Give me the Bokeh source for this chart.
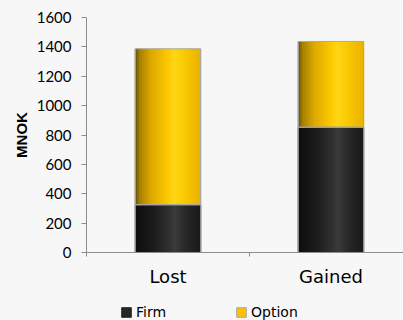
from bokeh.plotting import figure
from bokeh.models import (Range1d, FixedTicker, Legend, LegendItem)
from bokeh.layouts import column
from bokeh.embed import file_html
from bokeh.resources import INLINE

# ---- data ----
categories = ["Lost", "Gained"]
firm = [325, 853]
option = [1062, 584]
series_names = ["Firm", "Option"]
y_ticks = [0, 200, 400, 600, 800, 1000, 1200, 1400, 1600]

BG = "#f7f7f7"
AXIS = "#8c8c8c"
FIRM_C = "#262626"
OPT_C = "#ffc000"

def lerp_hex(stops, t):
    for (t0, c0), (t1, c1) in zip(stops[:-1], stops[1:]):
        if t0 <= t <= t1:
            f = (t - t0) / (t1 - t0) if t1 > t0 else 0
            a = [int(c0[i:i + 2], 16) for i in (1, 3, 5)]
            b = [int(c1[i:i + 2], 16) for i in (1, 3, 5)]
            return "#%02x%02x%02x" % tuple(round(a[k] + (b[k] - a[k]) * f) for k in range(3))
    return stops[-1][1]

yellow_stops = [(0.0, "#5e4c0c"), (0.08, "#a88200"), (0.25, "#dca800"),
                (0.5, "#fcc800"), (0.6, "#ffd615"), (0.8, "#f8c600"), (1.0, "#eab200")]
black_stops = [(0.0, "#0e0e0e"), (0.3, "#1c1c1c"), (0.62, "#3a3a3a"),
               (0.8, "#262626"), (1.0, "#1a1a1a")]

p = figure(width=403, height=290, output_backend="svg", toolbar_location=None,
           x_range=Range1d(0, 1.945), y_range=Range1d(0, 1600),
           min_border_left=86, min_border_right=0, min_border_top=17,
           min_border_bottom=38)
p.background_fill_color = BG
p.border_fill_color = BG
p.outline_line_color = None
p.xgrid.grid_line_color = None
p.ygrid.grid_line_color = None

xc = [i + 0.5 for i in range(len(categories))]
bar_w = 0.4
N = 30
sw = bar_w / N

seg_x, seg_bottom, seg_top, seg_color = [], [], [], []
for i, c in enumerate(xc):
    for k in range(N):
        t = (k + 0.5) / N
        x = c - bar_w / 2 + (k + 0.5) * sw
        seg_x.append(x); seg_bottom.append(0); seg_top.append(firm[i])
        seg_color.append(lerp_hex(black_stops, t))
        seg_x.append(x); seg_bottom.append(firm[i]); seg_top.append(firm[i] + option[i])
        seg_color.append(lerp_hex(yellow_stops, t))

p.vbar(x=seg_x, bottom=seg_bottom, top=seg_top, width=sw * 1.6,
       fill_color=seg_color, line_color=None)

tot = [f + o for f, o in zip(firm, option)]
p.vbar(x=xc, bottom=[0] * len(xc), top=firm, width=bar_w,
       fill_color=None, line_color="#9a9a9a", line_width=1)
p.vbar(x=xc, bottom=firm, top=tot, width=bar_w,
       fill_color=None, line_color="#a8a8a8", line_width=1)

# y axis
ya = p.yaxis[0]
ya.ticker = FixedTicker(ticks=y_ticks, minor_ticks=[])
ya.axis_line_color = AXIS
ya.major_tick_line_color = AXIS
ya.major_tick_out = 5
ya.major_tick_in = 0
ya.major_label_standoff = 10
ya.major_label_text_font = "Lato"
ya.major_label_text_font_size = "15px"
ya.major_label_text_color = "#000000"
ya.axis_label = "MNOK"
ya.axis_label_text_font = "Liberation Sans"
ya.axis_label_text_font_style = "bold"
ya.axis_label_text_font_size = "15px"
ya.axis_label_text_color = "#000000"
ya.axis_label_standoff = 4

# x axis
xa = p.xaxis[0]
xa.ticker = FixedTicker(ticks=xc, minor_ticks=[0, 1, 2])
xa.major_label_overrides = {x: c for x, c in zip(xc, categories)}
xa.axis_line_color = AXIS
xa.major_tick_line_color = None
xa.major_tick_out = 0
xa.minor_tick_line_color = AXIS
xa.minor_tick_out = 4
xa.minor_tick_in = 0
xa.major_label_standoff = 9
xa.major_label_text_font = "DejaVu Sans"
xa.major_label_text_font_size = "18px"
xa.major_label_text_color = "#000000"

# ---- legend strip ----
lg = figure(width=403, height=30, output_backend="svg", toolbar_location=None,
            x_range=Range1d(0, 1), y_range=Range1d(0, 1),
            min_border=0, x_axis_type=None, y_axis_type=None)
lg.background_fill_color = BG
lg.border_fill_color = BG
lg.outline_line_color = None
lg.xgrid.grid_line_color = None
lg.ygrid.grid_line_color = None
r_firm = lg.vbar(x=[0.5], bottom=[-3], top=[-2], width=0.1,
                 fill_color=FIRM_C, line_color=FIRM_C)
r_opt = lg.vbar(x=[0.5], bottom=[-3], top=[-2], width=0.1,
                fill_color=OPT_C, line_color="#a8a8a8")
legend = Legend(items=[LegendItem(label=series_names[0], renderers=[r_firm]),
                       LegendItem(label=series_names[1], renderers=[r_opt])],
                orientation="horizontal", location=(34, 0),
                glyph_width=12, glyph_height=12, label_standoff=4, spacing=69,
                padding=0, margin=0, border_line_color=None,
                background_fill_alpha=0,
                label_text_font="DejaVu Sans", label_text_font_size="14px",
                label_text_color="#000000")
lg.add_layout(legend, "center")

layout = column(p, lg, spacing=0, styles={"background-color": BG})
open("out.html", "w").write(file_html(layout, INLINE))
